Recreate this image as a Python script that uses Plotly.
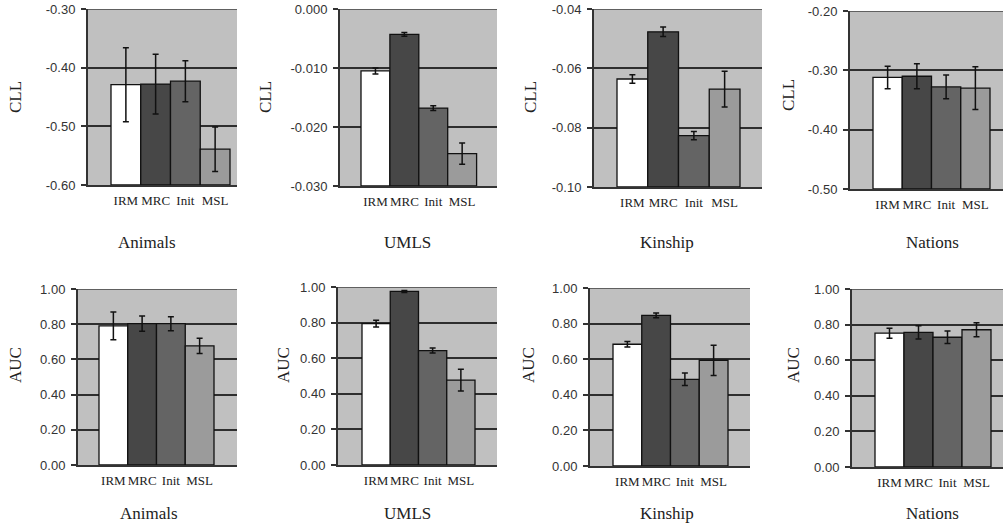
import plotly.graph_objects as go

methods = ["IRM", "MRC", "Init", "MSL"]
datasets = ["Animals", "UMLS", "Kinship", "Nations"]

# CLL values and error half-widths
cll_animals = [-0.429, -0.428, -0.423, -0.539]
cll_animals_err = [0.063, 0.051, 0.035, 0.038]
cll_umls = [-0.0105, -0.0043, -0.0168, -0.0245]
cll_umls_err = [0.0005, 0.0003, 0.0004, 0.0018]
cll_kinship = [-0.0636, -0.0477, -0.0827, -0.0670]
cll_kinship_err = [0.0014, 0.0016, 0.0014, 0.0060]
cll_nations = [-0.312, -0.310, -0.328, -0.330]
cll_nations_err = [0.019, 0.021, 0.020, 0.036]

# AUC values and error half-widths
auc_animals = [0.791, 0.803, 0.803, 0.677]
auc_animals_err = [0.079, 0.043, 0.040, 0.043]
auc_umls = [0.794, 0.975, 0.643, 0.477]
auc_umls_err = [0.019, 0.006, 0.014, 0.061]
auc_kinship = [0.684, 0.846, 0.487, 0.594]
auc_kinship_err = [0.016, 0.013, 0.035, 0.085]
auc_nations = [0.752, 0.756, 0.729, 0.771]
auc_nations_err = [0.028, 0.037, 0.035, 0.039]

# Y tick values / labels
ticks_cll_animals = [-0.60, -0.50, -0.40, -0.30]
labels_cll_animals = ["-0.60", "-0.50", "-0.40", "-0.30"]
ticks_cll_umls = [-0.030, -0.020, -0.010, 0.000]
labels_cll_umls = ["-0.030", "-0.020", "-0.010", "0.000"]
ticks_cll_kinship = [-0.10, -0.08, -0.06, -0.04]
labels_cll_kinship = ["-0.10", "-0.08", "-0.06", "-0.04"]
ticks_cll_nations = [-0.50, -0.40, -0.30, -0.20]
labels_cll_nations = ["-0.50", "-0.40", "-0.30", "-0.20"]
ticks_auc = [0.0, 0.2, 0.4, 0.6, 0.8, 1.0]
labels_auc = ["0.00", "0.20", "0.40", "0.60", "0.80", "1.00"]

bar_colors = ["#ffffff", "#474747", "#646464", "#9b9b9b"]

panels = [
    # values, errors, tickvals, ticktext, metric, dataset
    (cll_animals, cll_animals_err, ticks_cll_animals, labels_cll_animals, "CLL", datasets[0]),
    (cll_umls, cll_umls_err, ticks_cll_umls, labels_cll_umls, "CLL", datasets[1]),
    (cll_kinship, cll_kinship_err, ticks_cll_kinship, labels_cll_kinship, "CLL", datasets[2]),
    (cll_nations, cll_nations_err, ticks_cll_nations, labels_cll_nations, "CLL", datasets[3]),
    (auc_animals, auc_animals_err, ticks_auc, labels_auc, "AUC", datasets[0]),
    (auc_umls, auc_umls_err, ticks_auc, labels_auc, "AUC", datasets[1]),
    (auc_kinship, auc_kinship_err, ticks_auc, labels_auc, "AUC", datasets[2]),
    (auc_nations, auc_nations_err, ticks_auc, labels_auc, "AUC", datasets[3]),
]

# Layout geometry in pixels: plot box (left, right, top, bottom), first bar left edge, bar width,
# metric title position, dataset title position
W, H = 1003, 527
geom = [
    ((88, 237, 9, 185), 111, 29.75, (15, 97), (147, 242)),
    ((340, 497, 9, 186), 361, 28.9, (265, 97), (407, 242)),
    ((594, 762, 9, 187), 617, 30.75, (530, 97), (667, 242)),
    ((850, 1003, 11, 189), 873, 29.25, (788, 95), (932, 242)),
    ((78, 237, 289, 465), 99, 28.75, (15, 365), (149, 513)),
    ((338, 497, 287, 465), 362, 28.25, (283, 365), (407, 513)),
    ((590, 750, 288, 466), 613, 28.75, (528, 365), (667, 513)),
    ((852, 1003, 289, 467), 875, 29.0, (793, 365), (932, 513)),
]

SERIF = "Liberation Serif"
SANS = "Liberation Sans"

fig = go.Figure()
layout = dict(
    width=W, height=H,
    margin=dict(l=0, r=0, t=0, b=0, autoexpand=False),
    paper_bgcolor="white",
    plot_bgcolor="#c0c0c0",
    showlegend=False,
    annotations=[],
    shapes=[],
)

xpos = list(range(len(methods)))

for k, ((vals, errs, tv, tt, metric, ds), (box, bx0, bw, mpos, dpos)) in enumerate(zip(panels, geom), start=1):
    xa = "x" if k == 1 else f"x{k}"
    ya = "y" if k == 1 else f"y{k}"
    xkey = "xaxis" if k == 1 else f"xaxis{k}"
    ykey = "yaxis" if k == 1 else f"yaxis{k}"
    left, right, top, bottom = box
    ymin, ymax = tv[0], tv[-1]

    fig.add_trace(go.Bar(
        x=xpos, y=[v - ymin for v in vals], base=[ymin] * len(vals),
        width=1.0, marker=dict(color=bar_colors, line=dict(color="#111111", width=1.3)),
        xaxis=xa, yaxis=ya, hoverinfo="skip",
    ))
    fig.add_trace(go.Scatter(
        x=xpos, y=vals, mode="markers",
        marker=dict(size=1, opacity=0),
        error_y=dict(type="data", array=errs, visible=True, color="#111111", thickness=1.5, width=3),
        xaxis=xa, yaxis=ya, hoverinfo="skip",
    ))

    xr0 = (left - bx0) / bw - 0.5
    xr1 = (right - bx0) / bw - 0.5
    layout[xkey] = dict(
        domain=[left / W, right / W], anchor=ya, automargin=False,
        range=[xr0, xr1], tickmode="array", tickvals=xpos, ticktext=methods,
        showgrid=False, zeroline=False, showline=True, linecolor="#333333", linewidth=1.5,
        ticks="", ticklen=0, ticklabelstandoff=3, tickangle=0,
        tickfont=dict(family=SERIF, size=13, color="#222222"),
        fixedrange=True,
    )
    layout[ykey] = dict(
        domain=[1 - bottom / H, 1 - top / H], anchor=xa, automargin=False,
        range=[ymin, ymax], tickmode="array", tickvals=tv, ticktext=tt,
        showgrid=True, gridcolor="#2e2e2e", gridwidth=1.5,
        zeroline=False, showline=True, linecolor="#333333", linewidth=2,
        ticks="outside", ticklen=5, tickwidth=1.5, tickcolor="#333333",
        ticklabelstandoff=3,
        tickfont=dict(family=SANS, size=13, color="#333333"),
        fixedrange=True,
    )
    # top border of plot area (grey line at the top tick)
    layout["shapes"].append(dict(
        type="line", xref=f"{xa} domain", yref=ya, x0=0, x1=1, y0=ymax, y1=ymax,
        line=dict(color="#606060", width=2), layer="below",
    ))
    layout["annotations"].append(dict(
        text=metric, x=mpos[0] / W, y=1 - mpos[1] / H, xref="paper", yref="paper",
        showarrow=False, textangle=-90, xanchor="center", yanchor="middle",
        font=dict(family=SERIF, size=17, color="#222222"),
    ))
    layout["annotations"].append(dict(
        text=ds, x=dpos[0] / W, y=1 - dpos[1] / H, xref="paper", yref="paper",
        showarrow=False, xanchor="center", yanchor="middle",
        font=dict(family=SERIF, size=17, color="#222222"),
    ))

fig.update_layout(**layout)
fig.write_html(
    "out.html",
    config={"displayModeBar": False},
    post_script="document.body.style.margin='0px';document.body.style.overflow='hidden';",
)
